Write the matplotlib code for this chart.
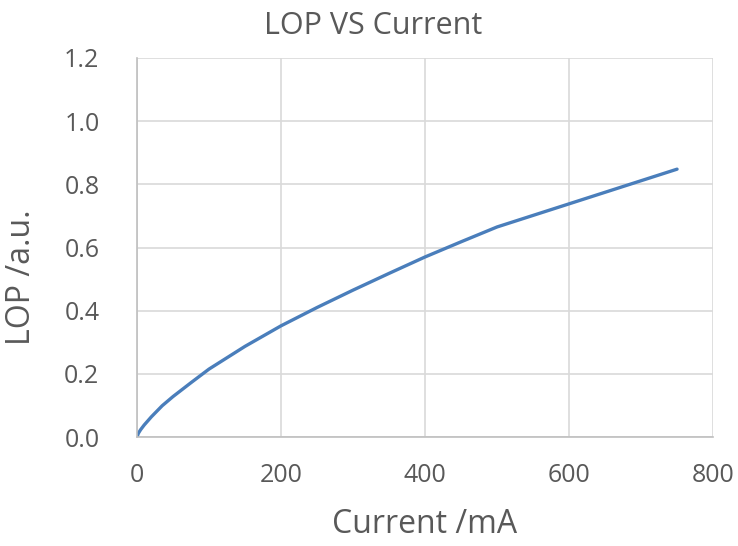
import numpy as np
import matplotlib.pyplot as plt

# 讀圖估計的數據
current = [0, 2, 5, 10, 20, 35, 50, 75, 100, 150, 200, 250, 300, 350, 400, 450, 500, 750]
lop = [0.0, 0.012, 0.023, 0.038, 0.064, 0.099, 0.128, 0.172, 0.215, 0.287, 0.352,
       0.41, 0.465, 0.518, 0.57, 0.618, 0.665, 0.848]
x_ticks = [0, 200, 400, 600, 800]
y_ticks = [0.0, 0.2, 0.4, 0.6, 0.8, 1.0, 1.2]

plt.rcParams['font.family'] = ['Open Sans', 'DejaVu Sans']
txt = '#595959'

fig = plt.figure(figsize=(7.38, 5.46), dpi=100)
ax = fig.add_axes([0.1856, 0.1996, 0.7806, 0.6942])

ax.plot(current, lop, color='#4a7ebb', lw=2.4, solid_capstyle='round')

ax.set_xlim(0, 800)
ax.set_ylim(0, 1.2)
ax.set_xticks(x_ticks)
ax.set_yticks(y_ticks)
ax.set_yticklabels([f"{v:.1f}" for v in y_ticks])
ax.tick_params(length=0, labelsize=18, colors=txt)
ax.tick_params(axis='y', pad=27)
ax.tick_params(axis='x', pad=19)
ax.grid(True, color='#d9d9d9', lw=1.2)
ax.set_axisbelow(True)
for s in ['top', 'right']:
    ax.spines[s].set_visible(False)
for s in ['left', 'bottom']:
    ax.spines[s].set_color('#bfbfbf')
    ax.spines[s].set_linewidth(1.2)

# 標題與軸標籤位置
fig.text(0.505, 0.952, "LOP VS Current", fontsize=22, color=txt, ha='center', va='center')
ax.set_xlabel("Current /mA", fontsize=23, color=txt, va='center')
ax.xaxis.set_label_coords(0.5, -0.232)
ax.set_ylabel("LOP /a.u.", fontsize=23, color=txt, va='center')
ax.yaxis.set_label_coords(-0.2, 0.422)

fig.savefig("out.png", dpi=100)
